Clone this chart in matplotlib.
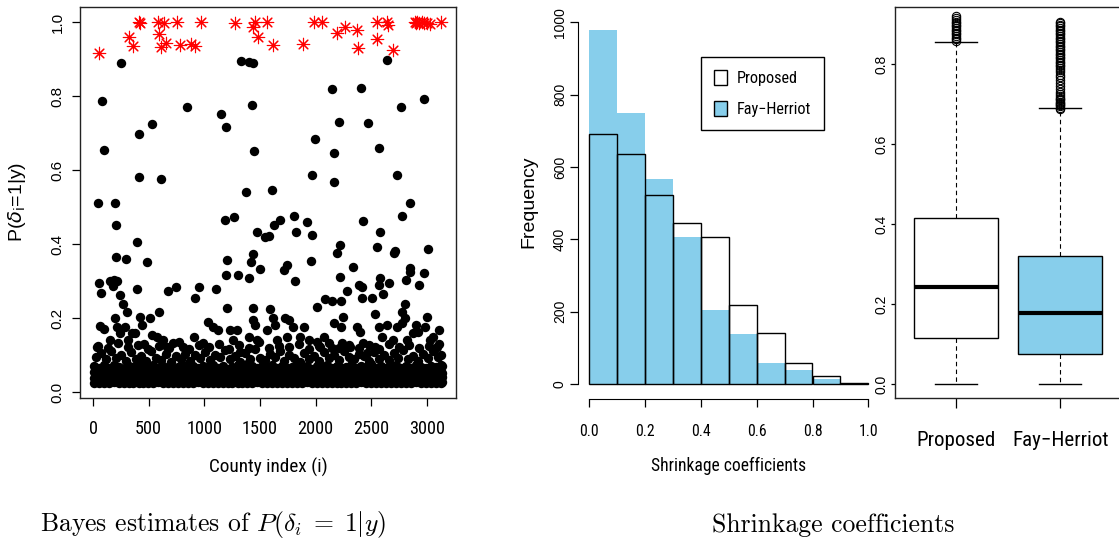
import matplotlib
matplotlib.use('Agg')
import matplotlib.pyplot as plt
from matplotlib import font_manager as fm
from matplotlib.patches import Patch

# ---------------- data: left panel (scatter of P(delta_i = 1 | y)) ----------------
star_x = [57, 326, 362, 410, 420, 587, 590, 614, 638, 653, 757, 782, 877, 916, 973,
          1276, 1441, 1456, 1486, 1560, 1614, 1890, 1986, 2055, 2195, 2267, 2375, 2384,
          2549, 2555, 2639, 2648, 2693, 2890, 2905, 2914, 2932, 2953, 2975, 2998, 3029, 3124]
star_y = [0.917, 0.959, 0.935, 1.0, 0.998, 1.0, 0.968, 0.932, 0.998, 0.944, 1.0, 0.938,
          0.94, 0.936, 1.0, 0.998, 0.987, 1.0, 0.96, 1.0, 0.938, 0.94, 1.0, 1.0, 0.969,
          0.987, 0.977, 0.931, 1.0, 0.953, 1.0, 0.992, 0.924, 1.0, 0.996, 1.0, 0.998, 1.0,
          0.996, 0.997, 0.995, 1.0]

high_x = [252, 78, 99, 416, 527, 410, 614, 847, 1147, 1192, 1327, 1404, 1441, 1426, 1446,
          1372, 1606, 1965, 1998, 2145, 2162, 2162, 2213, 2408, 2474, 2567, 2639, 2734,
          2765, 2977,
          48, 198, 207, 207, 297, 392, 482, 398, 57, 72,
          150, 170, 190, 215, 183, 243, 267, 303, 596, 677,
          743, 920, 950, 1102, 1183, 1264, 1201, 1195, 1303, 1201,
          1402, 1420, 1435, 1477, 1497, 1438, 1545, 1584, 1624, 1680,
          1590, 1720, 1740, 1806, 1824, 1818, 1925, 1965, 1956, 2010,
          2084, 2150, 2195, 2219, 2219, 2228, 2279, 2339, 2393, 2414,
          2429, 2420, 2504, 2549, 2579, 2579, 2570, 2534, 2603, 2663,
          2704, 2713, 2773, 2848, 2812, 2848, 2848, 2932, 2977, 3007,
          3004, 2773, 2800, 2249]
high_y = [0.888, 0.786, 0.653, 0.697, 0.724, 0.581, 0.575, 0.771, 0.750, 0.717, 0.895,
          0.892, 0.889, 0.775, 0.650, 0.541, 0.546, 0.586, 0.683, 0.818, 0.647, 0.568,
          0.731, 0.821, 0.727, 0.659, 0.897, 0.586, 0.771, 0.792,
          0.512, 0.512, 0.450, 0.366, 0.359, 0.405, 0.350, 0.279, 0.294, 0.267,
          0.300, 0.298, 0.302, 0.300, 0.286, 0.262, 0.238, 0.217, 0.215, 0.273,
          0.285, 0.253, 0.283, 0.278, 0.465, 0.472, 0.357, 0.316, 0.316, 0.228,
          0.307, 0.352, 0.372, 0.432, 0.332, 0.228, 0.420, 0.422, 0.450, 0.465,
          0.224, 0.331, 0.344, 0.477, 0.433, 0.300, 0.459, 0.424, 0.355, 0.231,
          0.252, 0.246, 0.377, 0.396, 0.310, 0.246, 0.274, 0.339, 0.289, 0.283,
          0.463, 0.253, 0.255, 0.393, 0.433, 0.307, 0.289, 0.210, 0.265, 0.294,
          0.375, 0.382, 0.477, 0.512, 0.303, 0.335, 0.325, 0.289, 0.321, 0.386,
          0.204, 0.215, 0.237, 0.204]

mid_x = [63, 99, 33, 153, 198, 219, 243, 288, 317, 347,
         377, 422, 437, 458, 512, 527, 572, 632, 662, 716,
         806, 907, 991, 1081, 1126, 1231, 1261, 1297, 1321, 1404,
         1441, 1456, 1471, 1560, 1614, 1635, 1650, 1725, 1740, 1764,
         1800, 1860, 1896, 1944, 2016, 2040, 2075, 2144, 2168, 2225,
         2234, 2309, 2375, 2399, 2429, 2459, 2534, 2573, 2594, 2639,
         2699, 2729, 2773, 2803, 2824, 2878, 2902, 2923, 2983, 3028,
         3052, 3088, 3111, 1030]
mid_y = [0.178, 0.169, 0.122, 0.141, 0.199, 0.177, 0.159, 0.177, 0.141, 0.159,
         0.160, 0.204, 0.181, 0.130, 0.199, 0.154, 0.150, 0.141, 0.122, 0.132,
         0.122, 0.150, 0.132, 0.177, 0.168, 0.168, 0.141, 0.168, 0.109, 0.150,
         0.195, 0.181, 0.141, 0.168, 0.199, 0.181, 0.141, 0.199, 0.150, 0.195,
         0.177, 0.150, 0.177, 0.141, 0.136, 0.122, 0.148, 0.118, 0.186, 0.177,
         0.132, 0.122, 0.177, 0.163, 0.132, 0.105, 0.122, 0.177, 0.150, 0.181,
         0.141, 0.177, 0.186, 0.199, 0.141, 0.159, 0.181, 0.163, 0.177, 0.141,
         0.150, 0.122, 0.168, 0.190]

fuzz2_x = [45, 135, 228, 318, 405, 495, 590, 680, 770, 860, 950, 1040, 1130, 1220, 1310,
           1400, 1490, 1580, 1670, 1760, 1850, 1940, 2030, 2120, 2210, 2300, 2390, 2480,
           2570, 2660, 2750, 2840, 2930, 3020, 3110]
fuzz2_y = [0.125, 0.118, 0.132, 0.121, 0.128, 0.115, 0.124, 0.119, 0.135, 0.117,
           0.126, 0.122, 0.130, 0.116, 0.127, 0.120, 0.134, 0.118, 0.125, 0.121,
           0.129, 0.116, 0.123, 0.133, 0.119, 0.126, 0.120, 0.128, 0.117, 0.131,
           0.122, 0.127, 0.118, 0.124, 0.130]

fuzz_x = [25, 70, 118, 160, 205, 250, 298, 340, 385, 430, 475, 520, 565, 610, 655, 700,
          742, 786, 830, 875, 920, 965, 1010, 1052, 1098, 1142, 1185, 1230, 1275, 1320,
          1365, 1410, 1452, 1498, 1542, 1588, 1632, 1676, 1720, 1765, 1810, 1855, 1898,
          1943, 1988, 2032, 2076, 2120, 2165, 2210, 2255, 2300, 2344, 2388, 2432, 2477,
          2522, 2566, 2610, 2655, 2700, 2744, 2788, 2833, 2878, 2922, 2966, 3010, 3055,
          3100, 3130]
fuzz_y = [0.095, 0.105, 0.088, 0.112, 0.092, 0.100, 0.085, 0.108, 0.090, 0.098,
          0.084, 0.110, 0.093, 0.087, 0.102, 0.080, 0.096, 0.089, 0.104, 0.083,
          0.099, 0.091, 0.107, 0.086, 0.101, 0.094, 0.113, 0.088, 0.097, 0.082,
          0.106, 0.090, 0.115, 0.093, 0.087, 0.103, 0.095, 0.110, 0.085, 0.099,
          0.092, 0.081, 0.105, 0.089, 0.097, 0.084, 0.108, 0.091, 0.100, 0.086,
          0.112, 0.094, 0.088, 0.103, 0.096, 0.083, 0.109, 0.090, 0.101, 0.087,
          0.106, 0.093, 0.114, 0.089, 0.098, 0.085, 0.104, 0.092, 0.110, 0.095,
          0.100]

band_x = [10, 52, 97, 141, 186, 230, 276, 320, 363, 409, 452, 498, 541, 586, 630, 675,
          719, 764, 808, 853, 897, 942, 986, 1031, 1075, 1120, 1164, 1209, 1253, 1298,
          1342, 1387, 1431, 1476, 1520, 1565, 1609, 1654, 1698, 1743, 1787, 1832, 1876,
          1921, 1965, 2010, 2054, 2099, 2143, 2188, 2232, 2277, 2321, 2366, 2410, 2455,
          2499, 2544, 2588, 2633, 2677, 2722, 2766, 2811, 2855, 2900, 2944, 2989, 3033,
          3078, 3122, 3138]
band_y1 = [0.024, 0.023, 0.025, 0.024, 0.026, 0.023, 0.024, 0.025, 0.023, 0.024,
           0.025, 0.023, 0.024, 0.026, 0.024, 0.023, 0.025, 0.024, 0.023, 0.025,
           0.024, 0.026, 0.023, 0.024, 0.025, 0.023, 0.024, 0.025, 0.024, 0.023,
           0.025, 0.024, 0.023, 0.026, 0.024, 0.025, 0.023, 0.024, 0.025, 0.024,
           0.023, 0.025, 0.024, 0.026, 0.023, 0.024, 0.025, 0.023, 0.024, 0.025,
           0.024, 0.023, 0.025, 0.024, 0.026, 0.023, 0.024, 0.025, 0.024, 0.023,
           0.025, 0.024, 0.023, 0.025, 0.024, 0.026, 0.023, 0.024, 0.025, 0.024,
           0.025, 0.027]
band_y2 = [0.038, 0.040, 0.037, 0.039, 0.041, 0.038, 0.037, 0.040, 0.039, 0.038,
           0.041, 0.037, 0.039, 0.038, 0.040, 0.038, 0.037, 0.039, 0.041, 0.038,
           0.040, 0.037, 0.039, 0.038, 0.041, 0.039, 0.037, 0.040, 0.038, 0.039,
           0.041, 0.038, 0.037, 0.040, 0.039, 0.038, 0.041, 0.037, 0.039, 0.040,
           0.038, 0.037, 0.041, 0.039, 0.038, 0.040, 0.037, 0.039, 0.041, 0.038,
           0.040, 0.037, 0.039, 0.038, 0.041, 0.039, 0.037, 0.040, 0.038, 0.039,
           0.041, 0.038, 0.037, 0.040, 0.039, 0.038, 0.041, 0.037, 0.039, 0.040,
           0.038, 0.040]
band_y3 = [0.054, 0.056, 0.052, 0.055, 0.053, 0.057, 0.052, 0.054, 0.056, 0.053,
           0.055, 0.052, 0.054, 0.057, 0.053, 0.055, 0.052, 0.056, 0.054, 0.053,
           0.055, 0.057, 0.052, 0.054, 0.056, 0.053, 0.055, 0.052, 0.057, 0.054,
           0.053, 0.056, 0.052, 0.055, 0.054, 0.057, 0.053, 0.052, 0.056, 0.054,
           0.055, 0.053, 0.057, 0.052, 0.054, 0.056, 0.053, 0.055, 0.052, 0.054,
           0.057, 0.053, 0.055, 0.052, 0.056, 0.054, 0.053, 0.055, 0.057, 0.052,
           0.054, 0.056, 0.053, 0.055, 0.052, 0.057, 0.054, 0.053, 0.056, 0.055,
           0.054, 0.052]
band_y4 = [0.070, 0.066, 0.074, 0.064, 0.072, 0.068, 0.063, 0.071, 0.067, 0.075,
           0.065, 0.069, 0.073, 0.064, 0.070, 0.066, 0.062, 0.068, 0.072, 0.065,
           0.069, 0.064, 0.071, 0.067, 0.074, 0.066, 0.070, 0.063, 0.068, 0.072,
           0.065, 0.076, 0.069, 0.064, 0.071, 0.067, 0.073, 0.066, 0.070, 0.064,
           0.068, 0.072, 0.065, 0.069, 0.063, 0.071, 0.067, 0.074, 0.066, 0.070,
           0.064, 0.068, 0.073, 0.065, 0.070, 0.067, 0.075, 0.066, 0.071, 0.064,
           0.069, 0.073, 0.066, 0.070, 0.065, 0.072, 0.068, 0.064, 0.071, 0.067,
           0.073, 0.069]

left_xticks = [0, 500, 1000, 1500, 2000, 2500, 3000]
left_yticks = [0.0, 0.2, 0.4, 0.6, 0.8, 1.0]

# ---------------- data: histogram of shrinkage coefficients ----------------
bin_edges = [0.0, 0.1, 0.2, 0.3, 0.4, 0.5, 0.6, 0.7, 0.8, 0.9, 1.0]
proposed_counts = [692, 637, 523, 446, 407, 218, 140, 59, 22, 3]
fh_counts = [978, 748, 567, 406, 205, 138, 57, 39, 14, 1]
hist_xticks = [0.0, 0.2, 0.4, 0.6, 0.8, 1.0]
hist_yticks = [0, 200, 400, 600, 800, 1000]

# ---------------- data: boxplots ----------------
box_labels = ['Proposed', 'Fay\u2212Herriot']
box_q1 = [0.114, 0.074]
box_med = [0.243, 0.178]
box_q3 = [0.414, 0.321]
box_whislo = [0.0, 0.0]
box_whishi = [0.854, 0.691]
prop_fliers = [0.858, 0.862, 0.866, 0.870, 0.874, 0.878, 0.882, 0.886, 0.890, 0.894,
               0.898, 0.902, 0.906, 0.910, 0.915, 0.919]
fh_fliers = [0.688, 0.691, 0.694, 0.697, 0.700, 0.703, 0.706, 0.709, 0.712, 0.716,
             0.720, 0.725, 0.731, 0.738, 0.745, 0.752, 0.760, 0.767, 0.773, 0.779,
             0.784, 0.789, 0.794, 0.798, 0.802, 0.806, 0.810, 0.814, 0.818, 0.822,
             0.826, 0.830, 0.834, 0.838, 0.842, 0.846, 0.850, 0.854, 0.858, 0.862,
             0.866, 0.870, 0.874, 0.878, 0.882, 0.886, 0.890, 0.894, 0.898, 0.902,
             0.906]
box_yticks = [0.0, 0.2, 0.4, 0.6, 0.8]

SKY = '#87CEEB'

# ---------------- fonts ----------------
names = {f.name for f in fm.fontManager.ttflist}


def pick(cands, default):
    for c in cands:
        if c in names:
            return c
    return default


NARROW = pick(['Nimbus Sans Narrow', 'Liberation Sans Narrow', 'Arial Narrow',
               'Roboto Condensed', 'Archivo Narrow', 'PT Sans Narrow',
               'Barlow Semi Condensed'], 'Liberation Sans')
REG = pick(['Nimbus Sans', 'Liberation Sans', 'Arimo'], 'DejaVu Sans')

W, H = 1119, 546
fig = plt.figure(figsize=(W / 100, H / 100), dpi=100)
renderer = fig.canvas.get_renderer()


def rect(x0, y0, x1, y1):
    return [x0 / W, 1 - y1 / H, (x1 - x0) / W, (y1 - y0) / H]


def fmt1(v):
    return '%.1f' % v


def fit_size(text, family, target_px, base=12.0):
    t = fig.text(0, 0, text, fontfamily=family, fontsize=base)
    w = t.get_window_extent(renderer).width
    t.remove()
    return base * target_px / w


# ================= left panel =================
ax1 = fig.add_axes(rect(80, 7, 456, 398))
black_x = band_x + band_x + band_x + band_x + fuzz_x + fuzz2_x + mid_x + high_x
black_y = band_y1 + band_y2 + band_y3 + band_y4 + fuzz_y + fuzz2_y + mid_y + high_y
ax1.scatter(black_x, black_y, s=46, c='black', marker='o', linewidths=0, zorder=2)
ax1.scatter(star_x, star_y, s=80, c='red', marker=(8, 2, 0), linewidths=0.8, zorder=3)
ax1.set_xlim(-117, 3261)
ax1.set_ylim(-0.0162, 1.0405)
ax1.set_xticks(left_xticks)
fs_lx = fit_size('3000', NARROW, 31) * 1.15
ax1.set_xticklabels([str(v) for v in left_xticks], fontfamily=NARROW, fontsize=fs_lx)
ax1.set_yticks(left_yticks)
ax1.set_yticklabels([fmt1(v) for v in left_yticks], fontfamily=REG, fontsize=11,
                    rotation=90, va='center')
ax1.tick_params(axis='x', direction='out', length=6, width=0.9, pad=10)
ax1.tick_params(axis='y', direction='out', length=6, width=0.9, pad=5)
for s in ax1.spines.values():
    s.set_linewidth(1.0)
    s.set_color('#222222')
fig.text(268 / W, 1 - 467 / H, 'County index (i)', ha='center', va='center',
         fontfamily=NARROW, fontsize=fit_size('County index (i)', NARROW, 112) * 1.06)
fig.text(17 / W, 1 - 202 / H, r'P($\delta_\mathrm{i}$=1|y)', ha='center', va='center',
         rotation=90, fontfamily=REG, fontsize=14, math_fontfamily='dejavusans')

# ================= histogram panel =================
ax2 = fig.add_axes(rect(578, 17, 879.5, 399))
ax2.bar(bin_edges[:-1], fh_counts, width=0.1, align='edge', color=SKY,
        edgecolor='none', linewidth=0, zorder=1)
ax2.bar(bin_edges[:-1], proposed_counts, width=0.1, align='edge', fill=False,
        edgecolor='black', linewidth=1.0, zorder=2)
ax2.set_xlim(-0.04, 1.04)
ax2.set_ylim(-41.5, 1014.6)
for k in ('top', 'right'):
    ax2.spines[k].set_visible(False)
ax2.spines['left'].set_bounds(0, 1000)
ax2.spines['bottom'].set_bounds(0, 1)
ax2.set_xticks(hist_xticks)
fs_hx = fit_size('0.0', NARROW, 15) * 1.3
ax2.set_xticklabels([fmt1(v) for v in hist_xticks], fontfamily=NARROW, fontsize=fs_hx)
ax2.set_yticks(hist_yticks)
ax2.set_yticklabels([str(v) for v in hist_yticks], fontfamily=REG, fontsize=10,
                    rotation=90, va='center')
ax2.tick_params(axis='x', direction='out', length=6, width=0.9, pad=12)
ax2.tick_params(axis='y', direction='out', length=6, width=0.9, pad=2)
fig.text(729 / W, 1 - 466 / H, 'Shrinkage coefficients', ha='center', va='center',
         fontfamily=NARROW,
         fontsize=fit_size('Shrinkage coefficients', NARROW, 146) * 1.06)
fig.text(529 / W, 1 - 202 / H, 'Frequency', ha='center', va='center', rotation=90,
         fontfamily=REG, fontsize=14)
fs_leg = fit_size('Proposed', NARROW, 61)
leg = ax2.legend(handles=[Patch(facecolor='white', edgecolor='black', label=box_labels[0]),
                          Patch(facecolor=SKY, edgecolor='black', label=box_labels[1])],
                 loc='upper left', bbox_to_anchor=(0.408, 0.895), fancybox=False,
                 edgecolor='black', framealpha=1, prop={'family': NARROW, 'size': fs_leg},
                 handlelength=0.8, handleheight=1.0, handletextpad=0.6,
                 borderpad=0.8, labelspacing=0.95, borderaxespad=0)
leg.get_frame().set_linewidth(1.0)

# ================= boxplot panel =================
ax3 = fig.add_axes(rect(895, 7, 1121, 398))
stats = [
    dict(med=box_med[0], q1=box_q1[0], q3=box_q3[0], whislo=box_whislo[0],
         whishi=box_whishi[0], fliers=prop_fliers, label=box_labels[0]),
    dict(med=box_med[1], q1=box_q1[1], q3=box_q3[1], whislo=box_whislo[1],
         whishi=box_whishi[1], fliers=fh_fliers, label=box_labels[1]),
]
bp = ax3.bxp(stats, positions=[1, 2], widths=0.8, capwidths=0.4, patch_artist=True,
             showfliers=True,
             boxprops=dict(edgecolor='black', linewidth=1.0),
             medianprops=dict(color='black', linewidth=3, solid_capstyle='butt'),
             whiskerprops=dict(color='black', linewidth=0.8, linestyle=(0, (4, 3))),
             capprops=dict(color='black', linewidth=1.0),
             flierprops=dict(marker='o', markerfacecolor='none', markeredgecolor='black',
                             markersize=6, markeredgewidth=0.8))
for patch, fc in zip(bp['boxes'], ['white', SKY]):
    patch.set_facecolor(fc)
ax3.set_xlim(0.42, 2.58)
ax3.set_ylim(-0.035, 0.9425)
ax3.set_xticks([1, 2])
fs_bx = fit_size('Proposed', NARROW, 72) * 1.1
ax3.set_xticklabels(box_labels, fontfamily=NARROW, fontsize=fs_bx)
ax3.set_yticks(box_yticks)
ax3.set_yticklabels([fmt1(v) for v in box_yticks], fontfamily=REG, fontsize=10,
                    rotation=90, va='center')
ax3.tick_params(axis='x', direction='out', length=7, width=0.9, pad=17)
ax3.tick_params(axis='y', direction='out', length=3, width=0.9, pad=1.5)
for s in ax3.spines.values():
    s.set_linewidth(1.0)
    s.set_color('#222222')

# ================= captions =================
fig.text(213 / W, 1 - 525 / H, r'Bayes estimates of $P(\delta_i\;=\;1|y)$', ha='center',
         va='center', fontfamily='cmr10', math_fontfamily='cm', fontsize=18.5)
fig.text(833 / W, 1 - 525 / H, 'Shrinkage coefficients', ha='center', va='center',
         fontfamily='cmr10', fontsize=18.5)

fig.savefig('out.png', dpi=100)
